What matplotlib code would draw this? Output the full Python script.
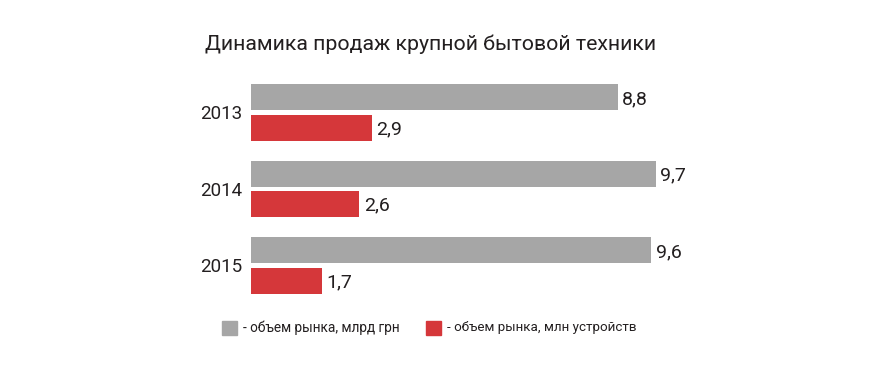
import matplotlib
matplotlib.use('Agg')
import matplotlib.pyplot as plt
from matplotlib.patches import Rectangle

# данные
years = ['2013', '2014', '2015']
market_uah = [8.8, 9.7, 9.6]      # млрд грн
market_units = [2.9, 2.6, 1.7]    # млн устройств
title = 'Динамика продаж крупной бытовой техники'
legend_labels = ['- объем рынка, млрд грн', '- объем рынка, млн устройств']

grey = '#a6a6a6'
red = '#d5373a'
txt = '#231f20'

plt.rcParams['font.family'] = ['Roboto', 'DejaVu Sans']

fig = plt.figure(figsize=(8.7, 3.68), dpi=100)
ax = fig.add_axes([251 / 870, 0.1746, 584 / 870, 0.6236])

h = 0.34
off = 0.197
ypos = list(range(len(years)))
ax.barh([y - off for y in ypos], market_uah, height=h, color=grey)
ax.barh([y + off for y in ypos], market_units, height=h, color=red)

for y, v in zip(ypos, market_uah):
    ax.text(v + 0.1, y - off + 0.02, str(v).replace('.', ','), va='center', ha='left',
            fontsize=14, color=txt)
for y, v in zip(ypos, market_units):
    ax.text(v + 0.1, y + off + 0.02, str(v).replace('.', ','), va='center', ha='left',
            fontsize=14, color=txt)
for y, lab in zip(ypos, years):
    ax.text(-0.2, y + 0.02, lab, va='center', ha='right', fontsize=13.5, color=txt)

ax.set_xlim(0, 14)
ax.set_ylim(2.5, -0.5)
ax.axis('off')

fig.text(431 / 870, 1 - 44 / 368, title, ha='center', va='center', fontsize=15.3, color=txt)

# легенда
fig.patches.append(Rectangle((222 / 870, 1 - 335 / 368), 15 / 870, 14 / 368,
                             transform=fig.transFigure, color=grey))
fig.text(243 / 870, 1 - 328 / 368, legend_labels[0], ha='left', va='center',
         fontsize=9.8, color=txt)
fig.patches.append(Rectangle((426 / 870, 1 - 335 / 368), 15 / 870, 14 / 368,
                             transform=fig.transFigure, color=red))
fig.text(447 / 870, 1 - 328 / 368, legend_labels[1], ha='left', va='center',
         fontsize=9.6, color=txt)

fig.savefig('out.png', dpi=100, facecolor='white')
